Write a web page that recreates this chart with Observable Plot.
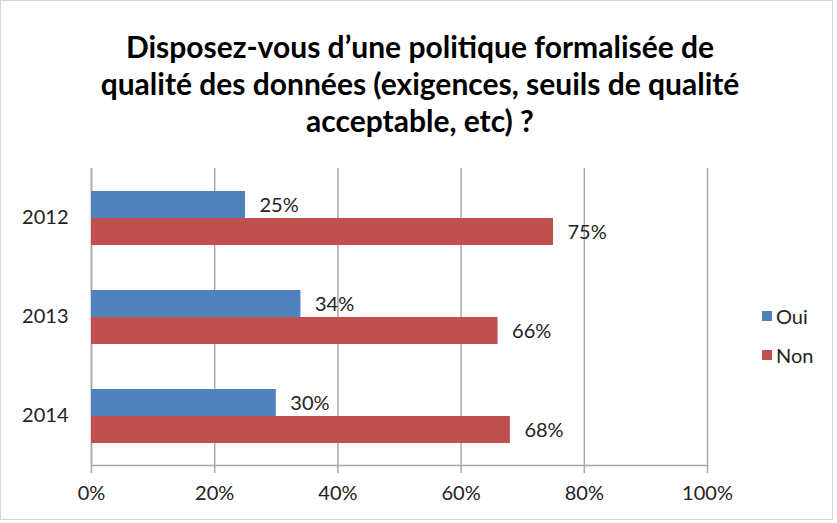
<!DOCTYPE html>
<html>
<head>
<meta charset="utf-8">
<script src="https://cdn.jsdelivr.net/npm/d3@7"></script>
<script src="https://cdn.jsdelivr.net/npm/@observablehq/plot@0.6"></script>
<style>
  html, body { margin: 0; padding: 0; background: #fff; }
  #chart { position: relative; width: 837px; height: 523px; font-family: Lato, "Open Sans", sans-serif; }
  #border { position: absolute; left: 0; top: 0; width: 831px; height: 518px; border: 1px solid #d4d4d4; }
  #title { position: absolute; left: 0; top: 28px; width: 840px; text-align: center; font-weight: bold; font-size: 30px; line-height: 37px; color: #000; }
  #plot { position: absolute; left: 0; top: 150px; }
  #legend { position: absolute; left: 762px; top: 303px; font-size: 20px; color: #222; }
  .item { display: flex; align-items: center; height: 26px; margin-bottom: 13px; }
  .sw { width: 10px; height: 10px; margin-right: 4px; }
</style>
</head>
<body>
<div id="chart">
  <div id="border"></div>
  <div id="title">Disposez-vous d’une politique formalisée de<br>qualité des données (exigences, seuils de qualité<br>acceptable, etc) ?</div>
  <div id="plot"></div>
  <div id="legend"></div>
</div>
<script>
const years = ["2012", "2013", "2014"];
const series = ["Oui", "Non"];
const oui = [25, 34, 30];
const non = [75, 66, 68];
const colors = ["#4F81BD", "#C0504D"];
const xTicks = [0, 20, 40, 60, 80, 100];

const data = [];
years.forEach((y, i) => {
  data.push({year: y, serie: "Oui", value: oui[i]});
  data.push({year: y, serie: "Non", value: non[i]});
});

const grid = "#a8a8a8";
const plot = Plot.plot({
  width: 837,
  height: 373,
  marginLeft: 91,
  marginRight: 130,
  marginTop: 17,
  marginBottom: 57,
  style: {fontFamily: "Lato, 'Open Sans', sans-serif", fontSize: "20px", color: "#222", background: "transparent"},
  x: {domain: [0, 100], axis: null},
  y: {domain: series, paddingInner: 0, paddingOuter: 0.82, axis: null},
  fy: {domain: years, padding: 0, axis: null},
  color: {domain: series, range: colors},
  marks: [
    Plot.gridX(xTicks, {stroke: grid, strokeOpacity: 1, strokeWidth: 1.5}),
    Plot.ruleX([0], {stroke: grid, strokeWidth: 1.5}),
    Plot.barX(data, {x: "value", y: "serie", fy: "year", fill: "serie"}),
    Plot.text(data, {x: "value", y: "serie", fy: "year", text: d => d.value + "%", textAnchor: "start", dx: 14, dy: 1, fill: "#222", fontSize: 20}),
    Plot.axisFy({anchor: "left", tickSize: 0, tickPadding: 23, fontSize: 20, label: null}),
    Plot.frame({anchor: "bottom", facetAnchor: "bottom", stroke: grid, strokeWidth: 1.5}),
    Plot.axisX(xTicks, {anchor: "bottom", tickSize: 8, tickPadding: 12, stroke: grid, strokeWidth: 1.5, tickFormat: d => d + "%", fontSize: 20, label: null})
  ]
});
document.getElementById("plot").appendChild(plot);

const legend = document.getElementById("legend");
series.forEach((s, i) => {
  const item = document.createElement("div");
  item.className = "item";
  item.innerHTML = `<div class="sw" style="background:${colors[i]}"></div><span>${s}</span>`;
  legend.appendChild(item);
});
</script>
</body>
</html>
